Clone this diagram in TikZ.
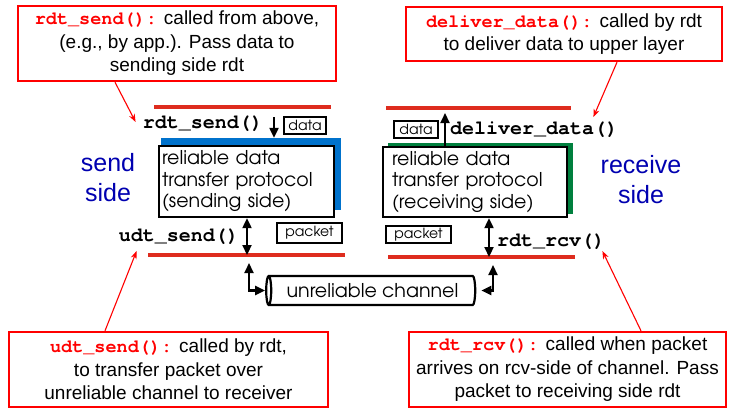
\documentclass[tikz,border=0pt]{standalone}
\usepackage{fontspec}
\setmainfont{Liberation Sans}
\setmonofont{texgyrecursor-bold.otf}
\newfontfamily\geofont{texgyreadventor-regular.otf}
\usetikzlibrary{positioning,arrows.meta,calc,shapes.geometric}
\definecolor{notered}{RGB}{255,0,0}
\definecolor{linered}{RGB}{222,44,30}
\definecolor{sideblue}{RGB}{0,0,176}
\definecolor{shadeblue}{RGB}{0,114,204}
\definecolor{shadegreen}{RGB}{0,128,62}
\newcommand{\fn}[1]{\textcolor{notered}{\ttfamily\fontsize{18.5}{23}\selectfont #1}}
\tikzset{
  note/.style={draw=notered, line width=2.4pt, fill=white, align=center, inner sep=0pt,
    font=\fontsize{19}{23.5}\selectfont},
  noteline/.style={notered, line width=1.1pt, -{Stealth[length=8pt,width=6pt]}},
  call/.style={inner sep=0pt, font=\ttfamily\fontsize{20}{24}\selectfont},
  tag/.style={draw, line width=2.2pt, inner sep=0pt, font=\geofont\fontsize{14}{16}\selectfont},
  rdtbox/.style={draw, line width=2.4pt, fill=white, align=left, inner ysep=0pt,
    font=\geofont\fontsize{19}{21.5}\selectfont},
  layer/.style={linered, line width=3.4pt},
  flow/.style={line width=2.2pt, -{Triangle[length=10pt,width=9pt]}},
  dflow/.style={line width=2.2pt, {Triangle[length=10pt,width=9pt]}-{Triangle[length=10pt,width=9pt]}},
  side/.style={text=sideblue, align=center, font=\fontsize{25}{30}\selectfont}
}
\begin{document}
\begin{tikzpicture}[x=1pt,y=-1pt]
  \useasboundingbox (0,0) rectangle (741,416);

  % layer lines
  \draw[layer] (154,107) -- (331,107);
  \draw[layer] (148,255) -- (345,255);
  \draw[layer] (386,108) -- (571,108);
  \draw[layer] (388,257) -- (575,257);

  % sender
  \node[fill=shadeblue, minimum width=180pt, minimum height=72pt] (sendshade) at (251,174) {};
  \node[rdtbox, minimum width=175pt, minimum height=71pt, text width=169pt, inner xsep=3pt]
    (sendbox) at (246.5,181.5) {reliable data\\transfer protocol\\(sending side)};
  \node[call, anchor=east] (sendcall) at (263,124) {rdt\_send()};
  \node[call, anchor=east] (udtcall) at (239,237) {udt\_send()};
  \node[tag, minimum width=42pt, minimum height=17pt] (senddata) at (305,125.5) {data};
  \node[tag, minimum width=65pt, minimum height=20pt] (sendpkt) at (309.5,233) {packet};
  \node[side] (sendside) at (108,178) {send\\side};

  % receiver
  \node[fill=shadegreen, minimum width=185pt, minimum height=71pt] (rcvshade) at (480.5,178.5) {};
  \node[rdtbox, minimum width=184pt, minimum height=70pt, text width=166pt, inner xsep=9pt]
    (rcvbox) at (475,182) {reliable data\\transfer protocol\\(receiving side)};
  \node[call, anchor=west] (delivcall) at (450,130) {deliver\_data()};
  \node[call, anchor=west] (rcvcall) at (497,242) {rdt\_rcv()};
  \node[tag, minimum width=44pt, minimum height=17pt] (rcvdata) at (416,129.5) {data};
  \node[tag, minimum width=65pt, minimum height=17pt] (rcvpkt) at (418.5,234.5) {packet};
  \node[side] (rcvside) at (641,179.5) {receive\\side};

  % channel
  \node[cylinder, shape border rotate=180, draw, line width=2.2pt, aspect=0.35,
    minimum width=29pt, minimum height=209pt, inner sep=0pt,
    font=\geofont\fontsize{19}{21}\selectfont] (chan) at (372.5,290.5) {unreliable channel};

  \coordinate (sendin) at (274,117);
  \coordinate (sendtap) at (247,255);
  \coordinate (sendjoin) at (249,263);
  \coordinate (rcvout) at (445,113);
  \coordinate (rcvtap) at (489,257);
  \coordinate (rcvjoin) at (493,265);

  \draw[flow] (sendin) -- (sendin |- sendshade.north);
  \draw[dflow] (sendbox.south -| sendtap) -- (sendtap);
  \draw[dflow] (sendjoin) |- (chan.west);
  \draw[flow] (rcvbox.north -| rcvout) -- (rcvout);
  \draw[dflow] (rcvbox.south -| rcvtap) -- (rcvtap);
  \draw[dflow] ([xshift=5pt]chan.east) -| (rcvjoin);

  % notes
  \node[note, minimum width=318pt, minimum height=75pt] (sendnote) at (177,43.5)
    {\fn{rdt\_send():} called from above,\\(e.g., by app.). Pass data to\\sending side rdt};
  \node[note, minimum width=316pt, minimum height=54pt] (delivnote) at (564,34)
    {\fn{deliver\_data():} called by rdt\\to deliver data to upper layer};
  \node[note, minimum width=319pt, minimum height=75pt] (udtnote) at (168.5,369.5)
    {\fn{udt\_send():} called by rdt,\\to transfer packet over\\unreliable channel to receiver};
  \node[note, minimum width=317pt, minimum height=75pt] (rcvnote) at (567.5,369.5)
    {\fn{rdt\_rcv():} called when packet\\arrives on rcv-side of channel. Pass\\packet to receiving side rdt};

  \draw[noteline] ([xshift=-62pt]sendnote.south) -- ([xshift=-7pt,yshift=2pt]sendcall.west);
  \draw[noteline] ([xshift=53pt]delivnote.south) -- ([xshift=-25pt,yshift=13pt]delivcall.east);
  \draw[noteline] ([xshift=-63.5pt]udtnote.north) -- ([xshift=18pt,yshift=-14pt]udtcall.west);
  \draw[noteline] ([xshift=73.5pt]rcvnote.north) -- ([xshift=-3pt,yshift=-9pt]rcvcall.east);
\end{tikzpicture}
\end{document}
